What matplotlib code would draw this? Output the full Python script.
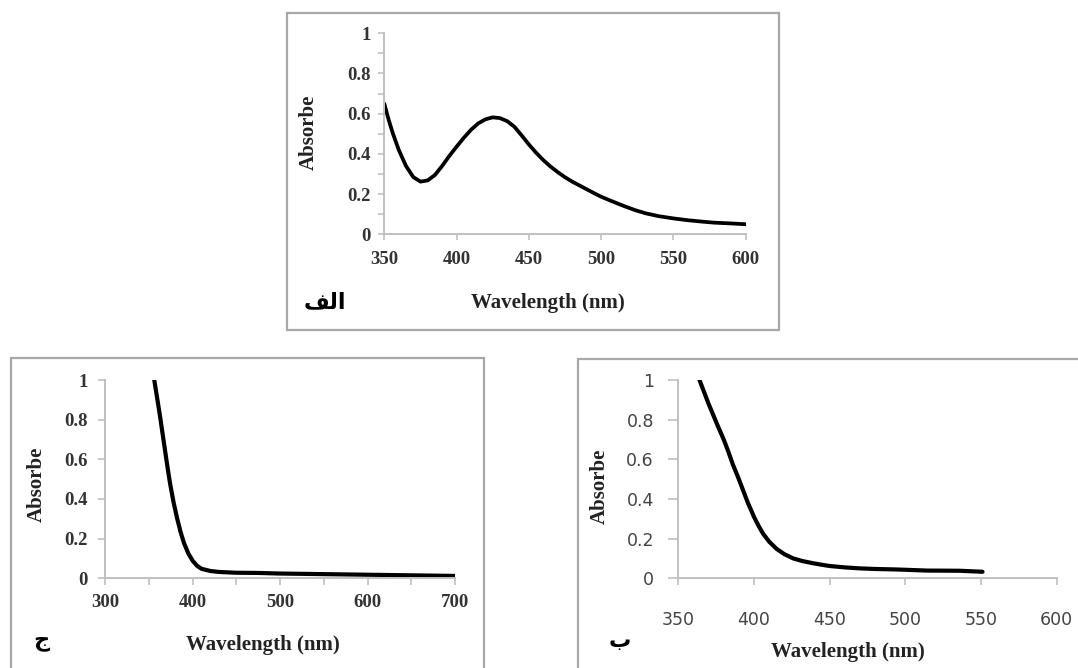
import matplotlib
matplotlib.use("Agg")
import matplotlib.pyplot as plt
from matplotlib.patches import Rectangle
from matplotlib.ticker import MultipleLocator

# ---------------- data ----------------
# Panel "الف" (top)
wl_a = [350, 353, 356, 360, 365, 370, 375, 380, 385, 390, 395, 400, 405, 410, 415,
        420, 425, 430, 435, 440, 445, 450, 455, 460, 465, 470, 475, 480, 485, 490,
        495, 500, 508, 516, 524, 531, 540, 550, 560, 570, 578, 590, 600]
abs_a = [0.65, 0.57, 0.50, 0.42, 0.34, 0.285, 0.262, 0.268, 0.295, 0.34, 0.39,
         0.436, 0.48, 0.52, 0.552, 0.572, 0.582, 0.578, 0.563, 0.535, 0.492, 0.447,
         0.406, 0.369, 0.337, 0.309, 0.284, 0.262, 0.243, 0.224, 0.205, 0.187, 0.163,
         0.14, 0.119, 0.104, 0.09, 0.079, 0.07, 0.063, 0.058, 0.054, 0.05]

# Panel "ج" (bottom left)
wl_c = [356, 358, 360, 362.5, 365, 368, 371, 374, 378, 382, 386, 390, 395, 400,
        405, 410, 420, 430, 450, 475, 500, 550, 600, 650, 700]
abs_c = [1.0, 0.945, 0.89, 0.82, 0.745, 0.655, 0.565, 0.48, 0.385, 0.305, 0.235,
         0.178, 0.125, 0.088, 0.063, 0.048, 0.037, 0.032, 0.028, 0.027, 0.024, 0.021,
         0.018, 0.015, 0.012]

# Panel "ب" (bottom right)
wl_b = [364, 367, 370, 373, 376, 380, 383, 386, 390, 393, 396, 400, 403, 406, 410,
        415, 420, 426, 432, 439, 445, 450, 460, 470, 480, 492, 500, 514, 536, 551]
abs_b = [1.0, 0.94, 0.88, 0.825, 0.77, 0.70, 0.64, 0.575, 0.50, 0.44, 0.38, 0.31,
         0.265, 0.225, 0.185, 0.148, 0.122, 0.10, 0.087, 0.076, 0.068, 0.062, 0.055,
         0.050, 0.047, 0.045, 0.043, 0.039, 0.038, 0.033]

xlabel_text = "Wavelength (nm)"
ylabel_text = "Absorbe"
panel_labels = ["\uFED2\uFEDF\uFE8D", "\uFE9D", "\uFE8F"]  # الف , ج , ب

# ---------------- layout helpers ----------------
W, H = 1078, 668
fig = plt.figure(figsize=(W / 100, H / 100), dpi=100)


def fx(px):
    return px / W


def fy(py):
    return 1 - py / H


def add_axes(x0, x1, ytop, ybot):
    return fig.add_axes([fx(x0), fy(ybot), fx(x1) - fx(x0), fy(ytop) - fy(ybot)])


SERIF = ["Liberation Serif", "DejaVu Serif"]
AXCOL = "#c0c0c0"
TICKCOL = "#333333"


def style_axes(ax, tick_len_y, tick_len_x):
    for s in ("top", "right"):
        ax.spines[s].set_visible(False)
    for s in ("left", "bottom"):
        ax.spines[s].set_color(AXCOL)
        ax.spines[s].set_linewidth(1.4)
    ax.tick_params(axis="y", which="both", length=tick_len_y, width=1.2, color=AXCOL,
                   direction="out")
    ax.tick_params(axis="x", which="both", length=tick_len_x, width=1.2, color=AXCOL,
                   direction="out")


# frames
fig.add_artist(Rectangle((fx(287), fy(330)), fx(779) - fx(287), fy(13) - fy(330),
                         transform=fig.transFigure, fill=False, ec="#a8a8a8", lw=1.6))
fig.add_artist(Rectangle((fx(11), fy(690)), fx(484) - fx(11), fy(358) - fy(690),
                         transform=fig.transFigure, fill=False, ec="#a8a8a8", lw=1.6))
fig.add_artist(Rectangle((fx(578), fy(690)), fx(1100) - fx(578), fy(359) - fy(690),
                         transform=fig.transFigure, fill=False, ec="#a8a8a8", lw=1.6))

# ---------------- top panel ----------------
ax1 = add_axes(384.3, 745.7, 33.3, 234.3)
ax1.plot(wl_a, abs_a, color="black", lw=2.7, solid_capstyle="round")
ax1.set_xlim(350, 600)
ax1.set_ylim(0, 1)
ax1.set_xticks([350, 400, 450, 500, 550, 600])
ax1.set_yticks([0, 0.2, 0.4, 0.6, 0.8, 1])
ax1.set_yticklabels(["0", "0.2", "0.4", "0.6", "0.8", "1"])
ax1.yaxis.set_minor_locator(MultipleLocator(0.1))
style_axes(ax1, 4.5, 4.5)
ax1.tick_params(axis="x", pad=7.5)
ax1.tick_params(axis="y", pad=5)
for lab in ax1.get_xticklabels() + ax1.get_yticklabels():
    lab.set_fontfamily(SERIF)
    lab.set_fontweight("bold")
    lab.set_fontsize(13.5)
    lab.set_color(TICKCOL)

# ---------------- bottom-left panel ----------------
ax2 = add_axes(105.3, 455.0, 380.0, 578.3)
ax2.plot(wl_c, abs_c, color="black", lw=3.0, solid_capstyle="round")
ax2.set_xlim(300, 700)
ax2.set_ylim(0, 1)
ax2.set_xticks([300, 400, 500, 600, 700])
ax2.xaxis.set_minor_locator(MultipleLocator(50))
ax2.set_yticks([0, 0.2, 0.4, 0.6, 0.8, 1])
ax2.set_yticklabels(["0", "0.2", "0.4", "0.6", "0.8", "1"])
style_axes(ax2, 5, 5)
ax2.tick_params(axis="x", pad=6.5)
ax2.tick_params(axis="y", pad=7.5)
for lab in ax2.get_xticklabels() + ax2.get_yticklabels():
    lab.set_fontfamily(SERIF)
    lab.set_fontweight("bold")
    lab.set_fontsize(13.5)
    lab.set_color(TICKCOL)

# ---------------- bottom-right panel ----------------
ax3 = add_axes(678.3, 1056.7, 380.0, 578.3)
ax3.plot(wl_b, abs_b, color="black", lw=3.0, solid_capstyle="round")
ax3.set_xlim(350, 600)
ax3.set_ylim(0, 1)
ax3.set_xticks([350, 400, 450, 500, 550, 600])
ax3.set_yticks([0, 0.2, 0.4, 0.6, 0.8, 1])
ax3.set_yticklabels(["0", "0.2", "0.4", "0.6", "0.8", "1"])
style_axes(ax3, 7, 5)
ax3.tick_params(axis="x", pad=18.5)
ax3.tick_params(axis="y", pad=10.5)
for lab in ax3.get_xticklabels() + ax3.get_yticklabels():
    lab.set_fontfamily(["DejaVu Sans"])
    lab.set_fontsize(12.5)
    lab.set_color("#444444")

# ---------------- axis labels ----------------
label_pos = [
    (ax1, (547.5, 303), (309, 132.5)),
    (ax2, (262.5, 645), (37, 484)),
    (ax3, (847.5, 652), (600, 486.7)),
]
for ax, (xlx, xly), (ylx, yly) in label_pos:
    ax.set_xlabel(xlabel_text, fontfamily=SERIF, fontweight="bold", fontsize=15,
                  color="#222222")
    ax.set_ylabel(ylabel_text, fontfamily=SERIF, fontweight="bold", fontsize=15,
                  color="#222222")
    ax.xaxis.label.set_va("center")
    ax.yaxis.label.set_va("center")
    ax.xaxis.set_label_coords(fx(xlx), fy(xly), transform=fig.transFigure)
    ax.yaxis.set_label_coords(fx(ylx), fy(yly), transform=fig.transFigure)

# ---------------- Arabic panel tags ----------------
tag_pos = [(325, 302), (41, 641), (620, 641)]
for txt, (px, py) in zip(panel_labels, tag_pos):
    fig.text(fx(px), fy(py), txt, ha="center", va="center", fontsize=16,
             fontweight="bold", family=["DejaVu Sans"], color="black")

fig.savefig("out.png", dpi=100)
